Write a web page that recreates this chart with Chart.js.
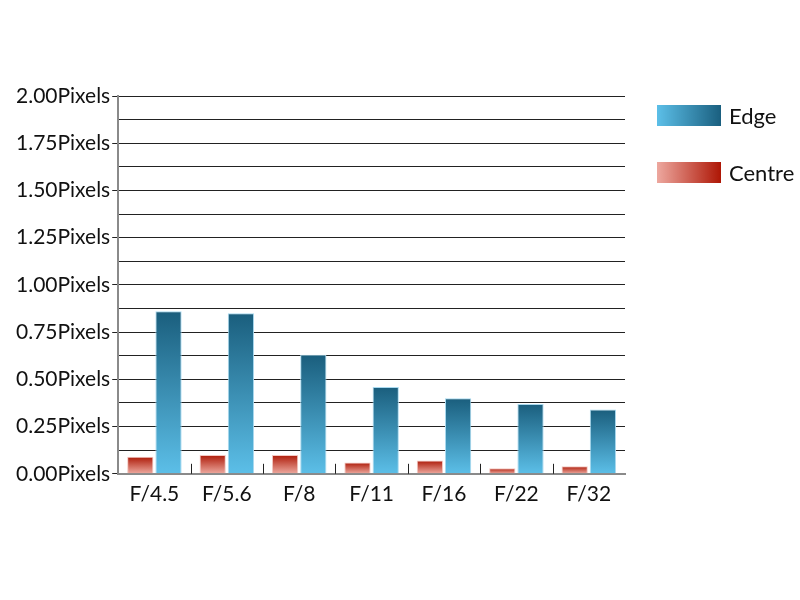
<!DOCTYPE html>
<html>
<head>
<meta charset="utf-8">
<script src="https://cdn.jsdelivr.net/npm/chart.js@4.4.1/dist/chart.umd.min.js"></script>
<style>
    html, body { margin: 0; padding: 0; background: #fff; }
    #wrap { position: relative; width: 800px; height: 600px; }
    #legend { position: absolute; left: 657px; top: 105px; font-family: Lato, sans-serif; font-size: 22px; color: #111; }
    .item { display: flex; align-items: center; height: 21px; margin-bottom: 36px; }
    .swatch { width: 64px; height: 21px; margin-right: 8px; }
</style>
</head>
<body>
<div id="wrap">
    <canvas id="chart" width="800" height="600"></canvas>
    <div id="legend">
        <div class="item"><div class="swatch" style="background: linear-gradient(to right, #5cbfe8, #1a5f7f);"></div><span>Edge</span></div>
        <div class="item"><div class="swatch" style="background: linear-gradient(to right, #eda89f, #ae1605);"></div><span>Centre</span></div>
    </div>
</div>
<script>
// Data
const categories = ['F/4.5', 'F/5.6', 'F/8', 'F/11', 'F/16', 'F/22', 'F/32'];
const centreValues = [0.09, 0.10, 0.10, 0.06, 0.07, 0.03, 0.04];
const edgeValues = [0.86, 0.85, 0.63, 0.46, 0.40, 0.37, 0.34];
const yMax = 2;
const yStep = 0.125;

// vertical gradient per bar: dark top, light bottom
function barGradient(topColor, bottomColor) {
    return function(context) {
        const chart = context.chart;
        const y = chart.scales && chart.scales.y;
        if (!chart.chartArea || !y || context.raw === undefined) return bottomColor;
        const top = y.getPixelForValue(context.raw);
        const bottom = y.getPixelForValue(0);
        const g = chart.ctx.createLinearGradient(0, top, 0, bottom);
        g.addColorStop(0, topColor);
        g.addColorStop(1, bottomColor);
        return g;
    };
}

// short upward ticks between categories on the x axis
const boundaryTicks = {
    id: 'boundaryTicks',
    afterDatasetsDraw(chart) {
        const x = chart.scales.x;
        const bottom = chart.chartArea.bottom;
        const ctx = chart.ctx;
        ctx.save();
        ctx.strokeStyle = '#222';
        ctx.lineWidth = 1;
        for (let i = 1; i < categories.length; i++) {
            const px = Math.round((x.getPixelForTick(i - 1) + x.getPixelForTick(i)) / 2) + 0.5;
            ctx.beginPath();
            ctx.moveTo(px, bottom - 10);
            ctx.lineTo(px, bottom);
            ctx.stroke();
        }
        ctx.restore();
    }
};

function isMajor(v) {
    return Math.abs(v / 0.25 - Math.round(v / 0.25)) < 1e-6;
}

new Chart(document.getElementById('chart'), {
    type: 'bar',
    data: {
        labels: categories,
        datasets: [{
            label: 'Centre',
            data: centreValues,
            backgroundColor: barGradient('#ad1a08', '#eeaaa0'),
            borderColor: '#f3c8c2',
            borderWidth: 1,
            categoryPercentage: 0.78,
            barPercentage: 0.93
        }, {
            label: 'Edge',
            data: edgeValues,
            backgroundColor: barGradient('#1a5e7d', '#5cbfe8'),
            borderColor: '#a9daf0',
            borderWidth: 1,
            categoryPercentage: 0.78,
            barPercentage: 0.93
        }]
    },
    options: {
        responsive: false,
        animation: false,
        layout: { padding: { left: 14, right: 175, top: 96, bottom: 93 } },
        plugins: {
            legend: { display: false },
            tooltip: { enabled: false }
        },
        scales: {
            x: {
                grid: { display: false },
                border: { color: '#8a8a8a', width: 2 },
                ticks: { color: '#111', font: { family: 'Lato', size: 21 }, padding: 0 }
            },
            y: {
                min: 0,
                max: yMax,
                afterBuildTicks(scale) {
                    const t = [];
                    for (let v = 0; v <= yMax + 1e-9; v += yStep) t.push({ value: +v.toFixed(3) });
                    scale.ticks = t;
                },
                grid: {
                    color: '#222',
                    lineWidth: 1,
                    tickLength: 6,
                    tickColor: (ctx) => isMajor(ctx.tick.value) ? '#222' : 'rgba(0,0,0,0)'
                },
                border: { color: '#8a8a8a', width: 2 },
                ticks: {
                    color: '#111',
                    font: { family: 'Lato', size: 21 },
                    padding: 2,
                    autoSkip: false,
                    callback: (v) => isMajor(v) ? v.toFixed(2) + 'Pixels' : ''
                }
            }
        }
    },
    plugins: [boundaryTicks]
});
</script>
</body>
</html>
